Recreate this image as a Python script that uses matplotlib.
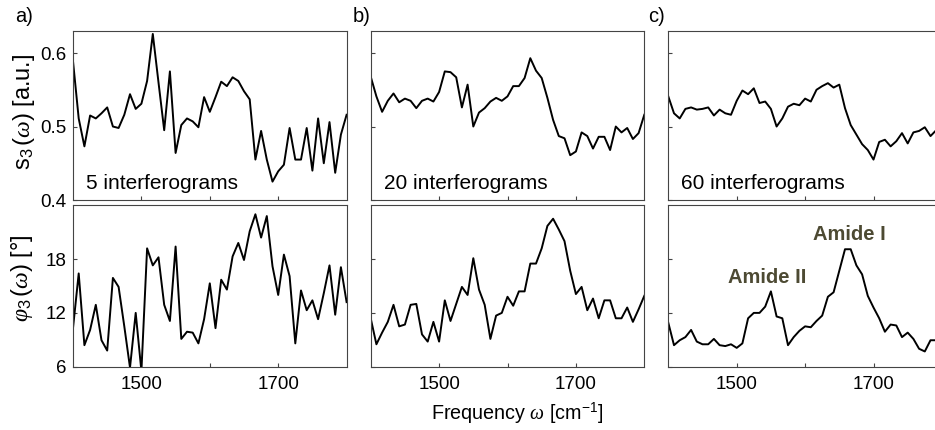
import numpy as np
import matplotlib
matplotlib.use('Agg')
import matplotlib.pyplot as plt

plt.rcParams['font.family'] = ['Liberation Sans', 'DejaVu Sans']
plt.rcParams['mathtext.fontset'] = 'custom'
plt.rcParams['mathtext.rm'] = 'Liberation Sans'
plt.rcParams['mathtext.it'] = 'Liberation Serif:italic'
plt.rcParams['mathtext.bf'] = 'Liberation Sans:bold'

# frequency grid of the spectra (cm^-1), 49 samples from 1400 to 1800
freq = np.linspace(1400, 1800, 49)

amp_5 = [0.589, 0.511, 0.473, 0.515, 0.511, 0.518, 0.526, 0.500, 0.498, 0.516,
         0.544, 0.524, 0.531, 0.562, 0.626, 0.560, 0.495, 0.575, 0.464, 0.502,
         0.511, 0.507, 0.499, 0.540, 0.520, 0.540, 0.561, 0.555, 0.567, 0.562,
         0.548, 0.537, 0.455, 0.494, 0.455, 0.425, 0.439, 0.448, 0.498, 0.455,
         0.455, 0.498, 0.440, 0.511, 0.450, 0.506, 0.437, 0.489, 0.516]
amp_20 = [0.568, 0.541, 0.520, 0.535, 0.545, 0.533, 0.538, 0.535, 0.525, 0.535,
          0.538, 0.534, 0.547, 0.575, 0.574, 0.567, 0.526, 0.557, 0.500, 0.519,
          0.525, 0.534, 0.539, 0.535, 0.541, 0.555, 0.555, 0.566, 0.593, 0.576,
          0.566, 0.539, 0.509, 0.487, 0.484, 0.461, 0.466, 0.492, 0.487, 0.470,
          0.486, 0.486, 0.468, 0.500, 0.492, 0.498, 0.483, 0.491, 0.516]
amp_60 = [0.541, 0.518, 0.511, 0.524, 0.526, 0.523, 0.524, 0.526, 0.515, 0.523,
          0.518, 0.516, 0.535, 0.549, 0.544, 0.552, 0.532, 0.534, 0.524, 0.500,
          0.511, 0.527, 0.531, 0.529, 0.538, 0.534, 0.550, 0.555, 0.559, 0.553,
          0.557, 0.525, 0.502, 0.489, 0.476, 0.468, 0.455, 0.479, 0.482, 0.473,
          0.480, 0.491, 0.477, 0.492, 0.494, 0.499, 0.487, 0.495, 0.490]

phase_5 = [10.3, 16.4, 8.4, 10.1, 12.9, 8.95, 7.8, 15.9, 14.9, 10.5,
           5.9, 12.0, 5.5, 19.2, 17.3, 18.2, 12.9, 11.1, 19.4, 9.1,
           9.9, 9.8, 8.6, 11.3, 15.3, 10.3, 15.7, 14.6, 18.3, 19.8,
           17.9, 21.1, 23.0, 20.4, 22.8, 17.2, 14.0, 18.5, 16.1, 8.6,
           14.5, 12.3, 13.4, 11.3, 14.2, 17.3, 11.8, 17.1, 13.2]
phase_20 = [11.4, 8.5, 9.8, 11.0, 12.9, 10.5, 10.7, 12.9, 13.0, 9.6,
            8.8, 11.0, 8.8, 13.4, 11.1, 13.0, 14.9, 14.0, 18.1, 14.6,
            12.9, 9.1, 11.7, 12.0, 13.8, 12.8, 14.4, 14.4, 17.5, 17.5,
            19.2, 21.7, 22.5, 21.3, 20.0, 16.7, 14.1, 14.9, 12.3, 13.6,
            11.4, 13.4, 13.4, 11.4, 11.4, 12.6, 11.0, 12.4, 13.9]
phase_60 = [10.9, 8.4, 8.95, 9.3, 10.1, 8.8, 8.5, 8.5, 9.1, 8.4,
            8.3, 8.5, 8.1, 8.6, 11.4, 12.0, 12.0, 12.7, 14.4, 11.6,
            11.4, 8.4, 9.3, 10.0, 10.5, 10.4, 11.1, 11.7, 13.8, 14.3,
            16.7, 19.1, 19.1, 17.3, 16.3, 13.9, 12.6, 11.4, 9.9, 10.7,
            10.6, 9.3, 9.8, 9.1, 8.0, 7.7, 8.95, 8.95, 9.0]

amp_sets = [amp_5, amp_20, amp_60]
phase_sets = [phase_5, phase_20, phase_60]
n_labels = ['5 interferograms', '20 interferograms', '60 interferograms']
panel_tags = ['a)', 'b)', 'c)']
amp_ticks = [0.4, 0.5, 0.6]
phase_ticks = [6, 12, 18]
freq_ticks = [1500, 1600, 1700]
freq_ticklabels = ['1500', '', '1700']

W, H = 935, 430
fig = plt.figure(figsize=(W / 100, H / 100), dpi=100)

lefts = [73, 370.7, 668.3]
aw = 273.6
spine_col = '#444444'
amide_col = '#4d4a33'


def style(ax):
    for s in ax.spines.values():
        s.set_color(spine_col)
        s.set_linewidth(0.8)
    ax.tick_params(direction='in', length=3, width=0.8, color=spine_col,
                   labelsize=13.5, pad=5)
    ax.tick_params(axis='x', pad=7)
    ax.set_xlim(1400, 1800)
    ax.set_xticks(freq_ticks)


for i in range(3):
    l = lefts[i] / W
    ax1 = fig.add_axes([l, (H - 200) / H, aw / W, 169 / H])
    ax2 = fig.add_axes([l, (H - 366.7) / H, aw / W, 161.4 / H])

    ax1.plot(freq, amp_sets[i], color='black', lw=1.4)
    ax2.plot(freq, phase_sets[i], color='black', lw=1.4)
    style(ax1)
    style(ax2)
    ax1.set_ylim(0.4, 0.63)
    ax1.set_yticks(amp_ticks)
    ax2.set_ylim(6, 24)
    ax2.set_yticks(phase_ticks)
    ax1.set_xticklabels([])
    ax2.set_xticklabels(freq_ticklabels)
    if i == 0:
        ax1.set_yticklabels(['0.4', '0.5', '0.6'])
        ax2.set_yticklabels(['6', '12', '18'])
    else:
        ax1.set_yticklabels([])
        ax2.set_yticklabels([])

    ax1.text(0.048, 0.095, n_labels[i], transform=ax1.transAxes,
             fontsize=15, va='center', ha='left')

    if i == 2:
        ax2.text(1665, 20.7, 'Amide I', color=amide_col, fontsize=14.5,
                 fontweight='bold', ha='center', va='center')
        ax2.text(1545, 16.0, 'Amide II', color=amide_col, fontsize=14.5,
                 fontweight='bold', ha='center', va='center')

for tag, x in zip(panel_tags, [15, 353, 648]):
    fig.text(x / W, 1 - 17 / H, tag, fontsize=14.5, ha='left', va='center')

fig.text(24 / W, 1 - 112 / H, r'$\mathrm{s}_3\,(\omega)$ [a.u.]', rotation=90,
         fontsize=17, ha='center', va='center')
fig.text(22 / W, 1 - 278 / H, r'$\varphi_3\,(\omega)$ [°]', rotation=90,
         fontsize=17, ha='center', va='center')
fig.text(517 / W, 1 - 413 / H, r'Frequency $\omega$ [cm$^{-1}$]',
         fontsize=14.2, ha='center', va='center')

fig.savefig('out.png', dpi=100)
